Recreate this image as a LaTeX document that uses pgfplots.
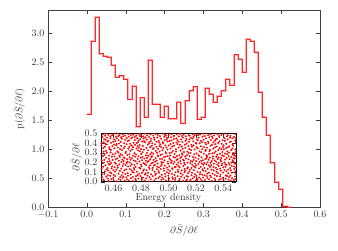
\documentclass[border=0pt]{standalone}
\usepackage{pgfplots}
\pgfplotsset{compat=1.18}
\usepackage{pgfplotstable}
\pgfplotstableread{
x y
0.0000 1.60
0.0105 2.87
0.0210 3.28
0.0315 2.65
0.0420 2.61
0.0525 2.59
0.0630 2.45
0.0735 2.24
0.0840 2.27
0.0945 2.21
0.1050 1.86
0.1155 2.09
0.1260 1.39
0.1365 1.89
0.1470 1.55
0.1575 2.54
0.1680 1.78
0.1785 1.78
0.1890 1.55
0.1995 1.75
0.2100 1.53
0.2205 1.53
0.2310 1.81
0.2415 1.45
0.2520 1.84
0.2625 2.01
0.2730 2.08
0.2835 1.52
0.2940 1.56
0.3045 2.06
0.3150 1.95
0.3255 1.81
0.3360 1.92
0.3465 2.01
0.3570 2.21
0.3675 2.10
0.3780 2.63
0.3885 2.56
0.3990 2.33
0.4095 2.90
0.4200 2.87
0.4305 2.67
0.4410 1.98
0.4515 1.55
0.4620 1.24
0.4725 0.77
0.4830 0.44
0.4935 0.32
0.5040 0.02
0.5145 0.01
0.5250 0.01
}\hist
\begin{document}
\begin{tikzpicture}
\begin{axis}[
  name=main, scale only axis, width=272pt, height=197.3pt,
  xmin=-0.1, xmax=0.6, ymin=0, ymax=3.4,
  xtick={-0.1,0,0.1,0.2,0.3,0.4,0.5,0.6},
  ytick={0,0.5,1,1.5,2,2.5,3},
  tick align=inside,
  axis line style={black!75, line width=0.7pt},
  tick style={black!75},
  ticklabel style={black!80},
  xticklabel style={/pgf/number format/fixed,/pgf/number format/precision=1,/pgf/number format/fixed zerofill},
  yticklabel style={/pgf/number format/fixed,/pgf/number format/precision=1,/pgf/number format/fixed zerofill},
  xlabel={$\partial\bar{S}/\partial\ell$},
  ylabel={p$(\partial\bar{S}/\partial\ell)$},
  label style={black!80},
]
\addplot[const plot mark left, red, opacity=0.3, line width=2pt] table[x=x,y=y] {\hist};
\addplot[const plot mark left, red!85, line width=0.4pt] table[x=x,y=y] {\hist};
\end{axis}
\begin{axis}[
  at={(53pt,25.6pt)}, anchor=south west,
  scale only axis, width=135pt, height=48.4pt,
  xmin=0.4509, xmax=0.5492, ymin=0, ymax=0.5,
  xtick={0.46,0.48,0.50,0.52,0.54},
  ytick={0,0.1,0.2,0.3,0.4,0.5},
  tick align=inside,
  axis background/.style={fill=white},
  axis line style={black, line width=0.8pt},
  tick style={black!80},
  ticklabel style={black!80},
  xticklabel style={/pgf/number format/fixed,/pgf/number format/precision=2,/pgf/number format/fixed zerofill},
  yticklabel style={/pgf/number format/fixed,/pgf/number format/precision=1,/pgf/number format/fixed zerofill},
  xlabel={Energy density},
  ylabel={$\partial\bar{S}/\partial\ell$},
  xlabel style={yshift=5pt},
  ylabel style={yshift=-4pt},
  label style={black!80},
]
\addplot[red, only marks, mark=*, mark size=0.75pt, mark options={draw=none, fill=red}] coordinates {
(0.4513,0.372)(0.4517,0.045)(0.4511,0.288)(0.4519,0.461)(0.4514,0.133)(0.4516,0.219)(0.4512,0.397)(0.4518,0.076)
(0.4524,0.154)(0.4521,0.487)(0.4528,0.311)(0.4526,0.022)(0.4523,0.265)(0.4529,0.408)(0.4522,0.193)(0.4527,0.346)
(0.4532,0.441)(0.4538,0.107)(0.4535,0.279)(0.4531,0.013)(0.4537,0.362)(0.4533,0.226)(0.4539,0.474)(0.4534,0.081)
(0.4545,0.318)(0.4541,0.169)(0.4548,0.052)(0.4543,0.433)(0.4546,0.247)(0.4542,0.391)(0.4549,0.128)(0.4544,0.495)
(0.4556,0.207)(0.4552,0.384)(0.4559,0.031)(0.4553,0.456)(0.4557,0.142)(0.4551,0.299)(0.4555,0.415)(0.4558,0.068)
(0.4563,0.482)(0.4567,0.236)(0.4561,0.115)(0.4569,0.357)(0.4564,0.009)(0.4568,0.271)(0.4562,0.423)(0.4566,0.184)
(0.4571,0.338)(0.4575,0.097)(0.4578,0.449)(0.4572,0.212)(0.4576,0.061)(0.4579,0.303)(0.4573,0.176)(0.4577,0.467)
(0.4584,0.026)(0.4588,0.259)(0.4582,0.401)(0.4586,0.138)(0.4581,0.329)(0.4589,0.478)(0.4585,0.087)(0.4583,0.194)
(0.4597,0.413)(0.4591,0.158)(0.4594,0.283)(0.4598,0.039)(0.4592,0.366)(0.4596,0.491)(0.4593,0.224)(0.4599,0.119)
(0.4602,0.071)(0.4606,0.345)(0.4609,0.198)(0.4603,0.437)(0.4607,0.262)(0.4601,0.017)(0.4605,0.384)(0.4608,0.149)
(0.4614,0.292)(0.4618,0.463)(0.4611,0.104)(0.4616,0.231)(0.4613,0.058)(0.4619,0.376)(0.4612,0.419)(0.4617,0.187)
(0.4625,0.446)(0.4621,0.125)(0.4628,0.313)(0.4623,0.004)(0.4627,0.241)(0.4624,0.389)(0.4629,0.166)(0.4622,0.498)
(0.4636,0.083)(0.4632,0.354)(0.4639,0.217)(0.4634,0.471)(0.4631,0.146)(0.4638,0.027)(0.4635,0.302)(0.4637,0.428)
(0.4643,0.269)(0.4647,0.111)(0.4641,0.395)(0.4649,0.048)(0.4645,0.483)(0.4642,0.179)(0.4648,0.336)(0.4646,0.255)
(0.4657,0.135)(0.4653,0.412)(0.4659,0.066)(0.4651,0.287)(0.4655,0.459)(0.4658,0.203)(0.4652,0.018)(0.4656,0.371)
(0.4661,0.443)(0.4665,0.229)(0.4668,0.094)(0.4662,0.326)(0.4666,0.162)(0.4669,0.489)(0.4663,0.274)(0.4667,0.037)
(0.4674,0.185)(0.4678,0.398)(0.4672,0.053)(0.4676,0.251)(0.4671,0.469)(0.4679,0.118)(0.4675,0.347)(0.4673,0.214)
(0.4688,0.296)(0.4682,0.011)(0.4685,0.434)(0.4689,0.171)(0.4683,0.363)(0.4687,0.078)(0.4681,0.245)(0.4686,0.476)
(0.4692,0.127)(0.4696,0.387)(0.4699,0.233)(0.4693,0.045)(0.4697,0.452)(0.4691,0.309)(0.4695,0.192)(0.4698,0.024)
(0.4703,0.418)(0.4707,0.157)(0.4701,0.276)(0.4709,0.492)(0.4704,0.089)(0.4708,0.341)(0.4702,0.206)(0.4706,0.063)
(0.4715,0.359)(0.4711,0.014)(0.4718,0.197)(0.4713,0.427)(0.4716,0.284)(0.4719,0.131)(0.4712,0.465)(0.4717,0.252)
(0.4726,0.073)(0.4722,0.318)(0.4729,0.448)(0.4724,0.163)(0.4721,0.392)(0.4727,0.036)(0.4723,0.227)(0.4728,0.481)
(0.4734,0.241)(0.4738,0.099)(0.4731,0.374)(0.4736,0.458)(0.4733,0.181)(0.4739,0.007)(0.4735,0.333)(0.4732,0.116)
(0.4747,0.403)(0.4743,0.268)(0.4749,0.141)(0.4741,0.049)(0.4745,0.486)(0.4748,0.219)(0.4742,0.356)(0.4746,0.095)
(0.4752,0.172)(0.4756,0.431)(0.4759,0.029)(0.4753,0.294)(0.4757,0.381)(0.4751,0.124)(0.4755,0.462)(0.4758,0.258)
(0.4764,0.057)(0.4768,0.343)(0.4762,0.211)(0.4766,0.477)(0.4761,0.152)(0.4769,0.399)(0.4765,0.281)(0.4763,0.016)
(0.4778,0.409)(0.4772,0.188)(0.4775,0.067)(0.4779,0.324)(0.4773,0.449)(0.4777,0.236)(0.4771,0.103)(0.4776,0.367)
(0.4781,0.263)(0.4785,0.494)(0.4788,0.145)(0.4782,0.031)(0.4786,0.352)(0.4789,0.209)(0.4783,0.426)(0.4787,0.082)
(0.4795,0.136)(0.4791,0.379)(0.4798,0.248)(0.4793,0.472)(0.4796,0.058)(0.4792,0.315)(0.4799,0.177)(0.4794,0.441)
(0.4806,0.021)(0.4802,0.286)(0.4809,0.414)(0.4804,0.159)(0.4801,0.337)(0.4807,0.091)(0.4803,0.484)(0.4808,0.222)
(0.4813,0.369)(0.4817,0.113)(0.4811,0.256)(0.4819,0.447)(0.4814,0.042)(0.4818,0.193)(0.4812,0.305)(0.4816,0.468)
(0.4827,0.184)(0.4823,0.421)(0.4829,0.074)(0.4821,0.331)(0.4825,0.239)(0.4828,0.496)(0.4822,0.128)(0.4826,0.012)
(0.4832,0.458)(0.4836,0.217)(0.4839,0.349)(0.4833,0.086)(0.4837,0.173)(0.4831,0.407)(0.4835,0.273)(0.4838,0.034)
(0.4844,0.297)(0.4848,0.063)(0.4842,0.436)(0.4846,0.201)(0.4841,0.118)(0.4849,0.383)(0.4845,0.479)(0.4843,0.246)
(0.4858,0.149)(0.4852,0.325)(0.4855,0.003)(0.4859,0.462)(0.4853,0.268)(0.4857,0.394)(0.4851,0.092)(0.4856,0.215)
(0.4861,0.411)(0.4865,0.169)(0.4868,0.284)(0.4862,0.047)(0.4866,0.358)(0.4869,0.488)(0.4863,0.134)(0.4867,0.232)
(0.4874,0.076)(0.4878,0.302)(0.4872,0.443)(0.4876,0.189)(0.4871,0.025)(0.4879,0.371)(0.4875,0.253)(0.4873,0.419)
(0.4887,0.338)(0.4883,0.121)(0.4889,0.476)(0.4881,0.264)(0.4885,0.057)(0.4888,0.197)(0.4882,0.396)(0.4886,0.143)
(0.4892,0.226)(0.4896,0.453)(0.4899,0.102)(0.4893,0.347)(0.4897,0.014)(0.4891,0.289)(0.4895,0.167)(0.4898,0.433)
(0.4905,0.492)(0.4901,0.174)(0.4908,0.318)(0.4903,0.069)(0.4906,0.244)(0.4902,0.386)(0.4909,0.031)(0.4904,0.207)
(0.4916,0.129)(0.4912,0.361)(0.4919,0.457)(0.4914,0.218)(0.4911,0.083)(0.4917,0.299)(0.4913,0.414)(0.4918,0.156)
(0.4923,0.271)(0.4927,0.038)(0.4921,0.188)(0.4929,0.422)(0.4924,0.339)(0.4928,0.109)(0.4922,0.483)(0.4926,0.262)
(0.4937,0.052)(0.4933,0.403)(0.4939,0.236)(0.4931,0.147)(0.4935,0.367)(0.4938,0.471)(0.4932,0.093)(0.4936,0.312)
(0.4941,0.384)(0.4945,0.162)(0.4948,0.019)(0.4942,0.277)(0.4946,0.444)(0.4949,0.203)(0.4943,0.131)(0.4947,0.358)
(0.4954,0.234)(0.4958,0.497)(0.4952,0.071)(0.4956,0.326)(0.4951,0.181)(0.4959,0.409)(0.4955,0.043)(0.4953,0.282)
(0.4967,0.115)(0.4963,0.348)(0.4969,0.463)(0.4961,0.199)(0.4965,0.027)(0.4968,0.254)(0.4962,0.397)(0.4966,0.138)
(0.4972,0.428)(0.4976,0.079)(0.4979,0.306)(0.4973,0.167)(0.4977,0.376)(0.4971,0.221)(0.4975,0.485)(0.4978,0.054)
(0.4984,0.292)(0.4988,0.146)(0.4982,0.012)(0.4986,0.437)(0.4981,0.259)(0.4989,0.098)(0.4985,0.353)(0.4983,0.475)
(0.4998,0.185)(0.4992,0.416)(0.4995,0.264)(0.4999,0.062)(0.4993,0.331)(0.4997,0.124)(0.4991,0.452)(0.4996,0.207)
(0.5001,0.374)(0.5005,0.033)(0.5008,0.241)(0.5002,0.481)(0.5006,0.158)(0.5009,0.296)(0.5003,0.087)(0.5007,0.419)
(0.5014,0.227)(0.5018,0.459)(0.5012,0.112)(0.5016,0.343)(0.5011,0.006)(0.5019,0.195)(0.5015,0.388)(0.5013,0.271)
(0.5027,0.139)(0.5023,0.302)(0.5029,0.046)(0.5021,0.426)(0.5025,0.213)(0.5028,0.364)(0.5022,0.492)(0.5026,0.081)
(0.5032,0.317)(0.5036,0.186)(0.5039,0.441)(0.5033,0.028)(0.5037,0.257)(0.5031,0.131)(0.5035,0.398)(0.5038,0.469)
(0.5044,0.068)(0.5048,0.249)(0.5042,0.372)(0.5046,0.154)(0.5041,0.477)(0.5049,0.018)(0.5045,0.286)(0.5043,0.204)
(0.5058,0.405)(0.5052,0.097)(0.5055,0.335)(0.5059,0.223)(0.5053,0.152)(0.5057,0.448)(0.5051,0.039)(0.5056,0.311)
(0.5061,0.176)(0.5065,0.431)(0.5068,0.058)(0.5062,0.266)(0.5066,0.389)(0.5069,0.121)(0.5063,0.489)(0.5067,0.233)
(0.5074,0.353)(0.5078,0.014)(0.5072,0.197)(0.5076,0.468)(0.5071,0.102)(0.5079,0.274)(0.5075,0.413)(0.5073,0.161)
(0.5087,0.245)(0.5083,0.381)(0.5089,0.086)(0.5081,0.147)(0.5085,0.494)(0.5088,0.322)(0.5082,0.029)(0.5086,0.212)
(0.5092,0.436)(0.5096,0.117)(0.5099,0.293)(0.5093,0.051)(0.5097,0.364)(0.5091,0.188)(0.5095,0.257)(0.5098,0.473)
(0.5103,0.072)(0.5107,0.228)(0.5101,0.409)(0.5109,0.163)(0.5104,0.341)(0.5108,0.009)(0.5102,0.279)(0.5106,0.456)
(0.5115,0.194)(0.5111,0.487)(0.5118,0.133)(0.5113,0.306)(0.5116,0.041)(0.5119,0.382)(0.5112,0.219)(0.5117,0.098)
(0.5126,0.423)(0.5122,0.262)(0.5129,0.015)(0.5124,0.351)(0.5121,0.178)(0.5127,0.469)(0.5123,0.114)(0.5128,0.241)
(0.5137,0.311)(0.5133,0.059)(0.5139,0.197)(0.5131,0.443)(0.5135,0.276)(0.5138,0.136)(0.5132,0.394)(0.5136,0.023)
(0.5141,0.149)(0.5145,0.368)(0.5148,0.482)(0.5142,0.088)(0.5146,0.231)(0.5149,0.412)(0.5143,0.053)(0.5147,0.297)
(0.5154,0.264)(0.5158,0.127)(0.5152,0.436)(0.5156,0.008)(0.5151,0.339)(0.5159,0.191)(0.5155,0.475)(0.5153,0.106)
(0.5167,0.381)(0.5163,0.214)(0.5169,0.067)(0.5161,0.298)(0.5165,0.453)(0.5168,0.142)(0.5162,0.021)(0.5166,0.327)
(0.5172,0.093)(0.5176,0.446)(0.5179,0.253)(0.5173,0.174)(0.5177,0.034)(0.5171,0.362)(0.5175,0.208)(0.5178,0.491)
(0.5184,0.226)(0.5188,0.049)(0.5182,0.375)(0.5186,0.158)(0.5181,0.417)(0.5189,0.283)(0.5185,0.119)(0.5183,0.464)
(0.5198,0.012)(0.5192,0.334)(0.5195,0.187)(0.5199,0.402)(0.5193,0.078)(0.5197,0.249)(0.5191,0.479)(0.5196,0.146)
(0.5205,0.292)(0.5201,0.167)(0.5208,0.438)(0.5203,0.061)(0.5206,0.356)(0.5202,0.213)(0.5209,0.026)(0.5204,0.393)
(0.5216,0.481)(0.5212,0.102)(0.5219,0.271)(0.5214,0.344)(0.5211,0.019)(0.5217,0.182)(0.5213,0.427)(0.5218,0.237)
(0.5223,0.138)(0.5227,0.314)(0.5221,0.455)(0.5229,0.076)(0.5224,0.268)(0.5228,0.397)(0.5222,0.044)(0.5226,0.203)
(0.5237,0.366)(0.5233,0.029)(0.5239,0.215)(0.5231,0.488)(0.5235,0.153)(0.5238,0.304)(0.5232,0.097)(0.5236,0.421)
(0.5241,0.251)(0.5245,0.409)(0.5248,0.128)(0.5242,0.011)(0.5246,0.337)(0.5249,0.466)(0.5243,0.189)(0.5247,0.073)
(0.5254,0.176)(0.5258,0.289)(0.5252,0.042)(0.5256,0.434)(0.5251,0.221)(0.5259,0.358)(0.5255,0.496)(0.5253,0.115)
(0.5267,0.403)(0.5263,0.066)(0.5269,0.318)(0.5261,0.193)(0.5265,0.472)(0.5268,0.234)(0.5262,0.142)(0.5266,0.017)
(0.5272,0.328)(0.5276,0.181)(0.5279,0.057)(0.5273,0.447)(0.5277,0.273)(0.5271,0.109)(0.5275,0.386)(0.5278,0.244)
(0.5284,0.037)(0.5288,0.414)(0.5282,0.262)(0.5286,0.133)(0.5281,0.352)(0.5289,0.481)(0.5285,0.201)(0.5283,0.084)
(0.5298,0.459)(0.5292,0.227)(0.5295,0.093)(0.5299,0.316)(0.5293,0.169)(0.5297,0.023)(0.5291,0.398)(0.5296,0.287)
(0.5303,0.154)(0.5307,0.371)(0.5301,0.248)(0.5309,0.431)(0.5304,0.062)(0.5308,0.196)(0.5302,0.329)(0.5306,0.489)
(0.5315,0.214)(0.5311,0.046)(0.5318,0.382)(0.5313,0.125)(0.5316,0.467)(0.5319,0.293)(0.5312,0.171)(0.5317,0.008)
(0.5326,0.342)(0.5322,0.452)(0.5329,0.117)(0.5324,0.261)(0.5321,0.083)(0.5327,0.406)(0.5323,0.239)(0.5328,0.151)
(0.5337,0.071)(0.5333,0.297)(0.5339,0.423)(0.5331,0.186)(0.5335,0.033)(0.5338,0.354)(0.5332,0.478)(0.5336,0.219)
(0.5341,0.389)(0.5345,0.144)(0.5348,0.257)(0.5342,0.016)(0.5346,0.438)(0.5349,0.102)(0.5343,0.312)(0.5347,0.206)
(0.5354,0.278)(0.5358,0.491)(0.5352,0.059)(0.5356,0.176)(0.5351,0.364)(0.5359,0.233)(0.5355,0.127)(0.5353,0.443)
(0.5367,0.161)(0.5363,0.327)(0.5369,0.472)(0.5361,0.089)(0.5365,0.252)(0.5368,0.019)(0.5362,0.401)(0.5366,0.194)
(0.5372,0.417)(0.5376,0.053)(0.5379,0.226)(0.5373,0.348)(0.5377,0.134)(0.5371,0.461)(0.5375,0.288)(0.5378,0.072)
(0.5384,0.246)(0.5388,0.392)(0.5382,0.113)(0.5386,0.484)(0.5381,0.027)(0.5389,0.169)(0.5385,0.336)(0.5383,0.211)
(0.5398,0.094)(0.5392,0.273)(0.5395,0.428)(0.5399,0.148)(0.5393,0.307)(0.5397,0.041)(0.5391,0.186)(0.5396,0.359)
(0.5403,0.333)(0.5407,0.199)(0.5401,0.014)(0.5409,0.449)(0.5404,0.264)(0.5408,0.121)(0.5402,0.376)(0.5406,0.497)
(0.5415,0.181)(0.5411,0.422)(0.5418,0.066)(0.5413,0.291)(0.5416,0.153)(0.5419,0.347)(0.5412,0.229)(0.5417,0.031)
(0.5426,0.468)(0.5422,0.107)(0.5429,0.313)(0.5424,0.244)(0.5421,0.392)(0.5427,0.058)(0.5423,0.171)(0.5428,0.284)
(0.5437,0.022)(0.5433,0.356)(0.5439,0.194)(0.5431,0.437)(0.5435,0.126)(0.5438,0.263)(0.5432,0.481)(0.5436,0.087)
(0.5441,0.301)(0.5445,0.177)(0.5448,0.409)(0.5442,0.049)(0.5446,0.232)(0.5449,0.141)(0.5443,0.366)(0.5447,0.456)
(0.5454,0.118)(0.5458,0.254)(0.5452,0.473)(0.5456,0.327)(0.5451,0.064)(0.5459,0.198)(0.5455,0.415)(0.5453,0.011)
(0.5467,0.386)(0.5463,0.036)(0.5469,0.279)(0.5461,0.163)(0.5465,0.448)(0.5468,0.221)(0.5462,0.094)(0.5466,0.343)
(0.5472,0.207)(0.5476,0.464)(0.5479,0.132)(0.5473,0.298)(0.5477,0.018)(0.5471,0.371)(0.5475,0.246)(0.5478,0.157)
(0.5484,0.054)(0.5488,0.333)(0.5482,0.189)(0.5486,0.427)(0.5481,0.271)(0.5489,0.109)(0.5485,0.493)(0.5483,0.238)
(0.5490,0.412)(0.5491,0.146)(0.5490,0.028)(0.5491,0.307)(0.5490,0.266)(0.5491,0.183)(0.5490,0.451)(0.5491,0.079)
};
\end{axis}
\pgfresetboundingbox
\path (-48pt,-42.7pt) rectangle (290pt,207.3pt);
\end{tikzpicture}
\end{document}
